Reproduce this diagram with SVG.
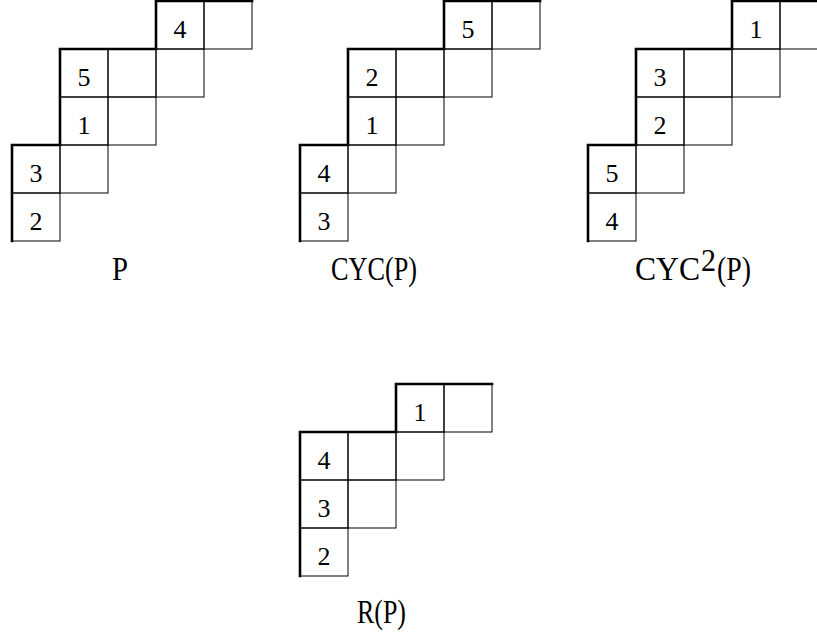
<svg xmlns="http://www.w3.org/2000/svg" width="817" height="632" viewBox="0 0 817 632">
<style>
.c{fill:none;stroke:#000;stroke-width:1}
.t{fill:none;stroke:#000;stroke-width:2.6;stroke-linejoin:miter;stroke-linecap:square}
text{font-family:'Liberation Serif','Times New Roman',serif;fill:#000}
.d{font-size:26px;text-anchor:middle}
.l{font-size:33px}
.m{text-anchor:middle}
.s{font-size:31px}
</style>
<defs>
<g id="shape5">
<rect class="c" x="144" y="0" width="48" height="48"/>
<rect class="c" x="192" y="0" width="48" height="48"/>
<rect class="c" x="48" y="48" width="48" height="48"/>
<rect class="c" x="96" y="48" width="48" height="48"/>
<rect class="c" x="144" y="48" width="48" height="48"/>
<rect class="c" x="48" y="96" width="48" height="48"/>
<rect class="c" x="96" y="96" width="48" height="48"/>
<rect class="c" x="0" y="144" width="48" height="48"/>
<rect class="c" x="48" y="144" width="48" height="48"/>
<rect class="c" x="0" y="192" width="48" height="48"/>
<path class="t" d="M0,240 V144 H48 V48 H144 V0 H240"/>
</g>
</defs>

<g id="tableau-P">
<use href="#shape5" x="12" y="1"/>
<text class="d" x="180" y="38">4</text>
<text class="d" x="84" y="86">5</text>
<text class="d" x="84" y="134">1</text>
<text class="d" x="36" y="182">3</text>
<text class="d" x="36" y="230">2</text>
<text class="l m" x="120" y="280" textLength="16" lengthAdjust="spacingAndGlyphs">P</text>
</g>

<g id="tableau-CYC">
<use href="#shape5" x="300" y="1"/>
<text class="d" x="468" y="38">5</text>
<text class="d" x="372" y="86">2</text>
<text class="d" x="372" y="134">1</text>
<text class="d" x="324" y="182">4</text>
<text class="d" x="324" y="230">3</text>
<text class="l" x="331" y="280" textLength="86" lengthAdjust="spacingAndGlyphs">CYC(P)</text>
</g>

<g id="tableau-CYC2">
<use href="#shape5" x="588" y="1"/>
<text class="d" x="756" y="38">1</text>
<text class="d" x="660" y="86">3</text>
<text class="d" x="660" y="134">2</text>
<text class="d" x="612" y="182">5</text>
<text class="d" x="612" y="230">4</text>
<text class="l" x="635" y="280" textLength="65" lengthAdjust="spacingAndGlyphs">CYC</text>
<text class="s" x="701" y="271" textLength="15" lengthAdjust="spacingAndGlyphs">2</text>
<text class="l" x="717" y="280" textLength="34" lengthAdjust="spacingAndGlyphs">(P)</text>
</g>

<g id="tableau-R">
<rect class="c" x="396" y="384" width="48" height="48"/>
<rect class="c" x="444" y="384" width="48" height="48"/>
<rect class="c" x="300" y="432" width="48" height="48"/>
<rect class="c" x="348" y="432" width="48" height="48"/>
<rect class="c" x="396" y="432" width="48" height="48"/>
<rect class="c" x="300" y="480" width="48" height="48"/>
<rect class="c" x="348" y="480" width="48" height="48"/>
<rect class="c" x="300" y="528" width="48" height="48"/>
<path class="t" d="M300,576 V432 H396 V384 H492"/>
<text class="d" x="420" y="421">1</text>
<text class="d" x="324" y="469">4</text>
<text class="d" x="324" y="517">3</text>
<text class="d" x="324" y="565">2</text>
<text class="l" x="357" y="623" textLength="49" lengthAdjust="spacingAndGlyphs">R(P)</text>
</g>
</svg>
